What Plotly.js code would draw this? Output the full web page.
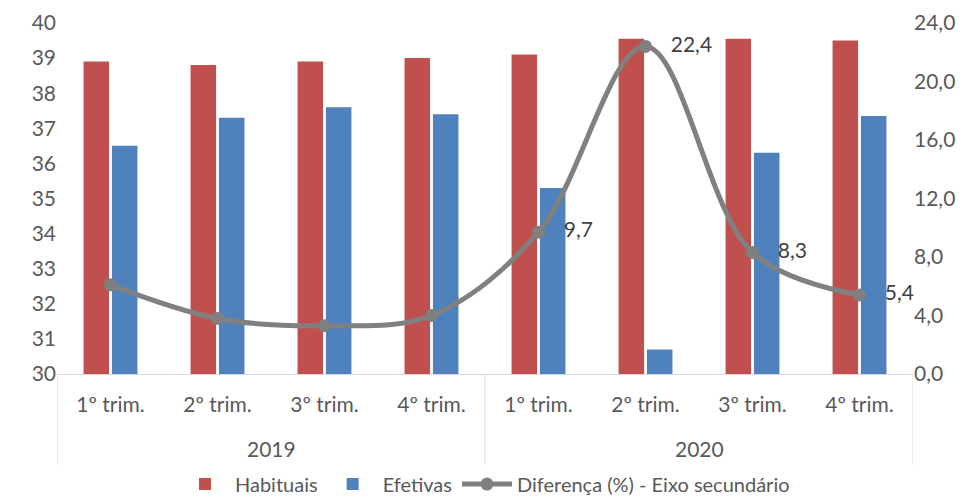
<!DOCTYPE html>
<html>
<head>
<meta charset="utf-8">
<script src="https://cdn.plot.ly/plotly-3.0.1.min.js"></script>
<style>html,body{margin:0;padding:0;background:#fff;}#chart{width:979px;height:499px;}</style>
</head>
<body>
<div id="chart"></div>
<script>
const years = ["2019","2019","2019","2019","2020","2020","2020","2020"];
const quarters = ["1º trim.","2º trim.","3º trim.","4º trim.","1º trim.","2º trim.","3º trim.","4º trim."];
const habituais = [38.9, 38.8, 38.9, 39.0, 39.1, 39.55, 39.55, 39.5];
const efetivas = [36.5, 37.3, 37.6, 37.4, 35.3, 30.7, 36.3, 37.35];
const diferenca = [6.1, 3.8, 3.3, 4.0, 9.7, 22.4, 8.3, 5.4];
const labelled = [false, false, false, false, true, true, true, true];

const FONT = "Lato, 'Open Sans', sans-serif";
const FS = 21;
const idx = quarters.map((q,i)=>i);

const traces = [
  {type:"bar", name:"Habituais", x:idx, y:habituais, marker:{color:"#C0504D"}, hoverinfo:"y"},
  {type:"bar", name:"Efetivas", x:idx, y:efetivas, marker:{color:"#4F81BD"}, hoverinfo:"y"},
  {type:"scatter", mode:"lines+markers+text", name:"Diferença (%) - Eixo secundário",
   x:idx, y:diferenca, yaxis:"y2",
   line:{color:"#808080", width:5, shape:"spline", smoothing:1},
   marker:{color:"#808080", size:13},
   text: diferenca.map((v,i)=> labelled[i] ? "\u00a0\u00a0\u00a0" + v.toFixed(1).replace(".", ",") : ""),
   textposition:"middle right",
   textfont:{family:FONT, size:FS, color:"#404040"},
   cliponaxis:false}
];

// year group labels and dividers, derived from the years array
const groups = [];
years.forEach((y,i)=>{
  if(!groups.length || groups[groups.length-1].name !== y) groups.push({name:y, start:i, end:i});
  else groups[groups.length-1].end = i;
});
const annotations = groups.map(g=>({
  x:(g.start+g.end)/2, xref:"x", y:-0.211, yref:"paper", yanchor:"middle",
  text:g.name, showarrow:false, font:{family:FONT, size:FS, color:"#595959"}
}));
const divX = [groups[0].start-0.5].concat(groups.map(g=>g.end+0.5));
const shapes = divX.map(xv=>({
  type:"line", xref:"x", yref:"paper", x0:xv, x1:xv, y0:0, y1:-0.26,
  line:{color:"#D9D9D9", width:1}
}));

const layout = {
  width:979, height:499,
  margin:{l:57, r:66, t:23, b:125, autoexpand:false},
  paper_bgcolor:"#fff", plot_bgcolor:"#fff",
  font:{family:FONT, size:FS, color:"#595959"},
  separators:",.",
  barmode:"group", bargap:0.47, bargroupgap:0.1,
  showlegend:true,
  legend:{orientation:"h", x:0.5, xanchor:"center", y:-0.258, yanchor:"top",
          itemwidth:50, font:{family:FONT, size:20, color:"#595959"}, traceorder:"normal"},
  xaxis:{range:[-0.5, idx.length-0.5], tickvals:idx, ticktext:quarters,
         showline:true, linecolor:"#D9D9D9", linewidth:1, ticks:"", ticklabelstandoff:12,
         showgrid:false, zeroline:false, tickfont:{family:FONT, size:FS, color:"#595959"}},
  yaxis:{range:[30,40], dtick:1, showgrid:false, zeroline:false, showline:false,
         ticks:"", tickfont:{family:FONT, size:FS, color:"#595959"}},
  yaxis2:{range:[0,24], dtick:4, tickformat:".1f", overlaying:"y", side:"right",
          showgrid:false, zeroline:false, showline:false, ticks:"",
          tickfont:{family:FONT, size:FS, color:"#595959"}},
  annotations:annotations,
  shapes:shapes
};

Plotly.newPlot("chart", traces, layout, {displayModeBar:false, staticPlot:true});
</script>
</body>
</html>
